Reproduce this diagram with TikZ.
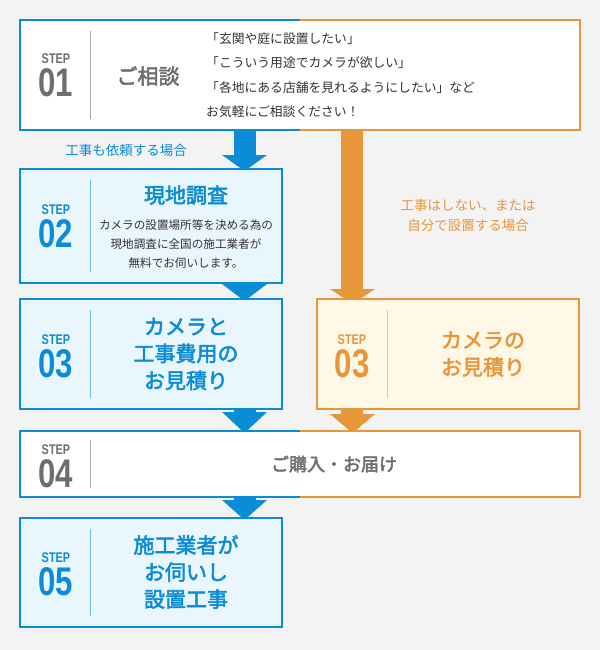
\documentclass[tikz,border=0pt]{standalone}
\usepackage{fontspec}
\setmainfont{Noto Sans CJK JP}
\newfontfamily\jpb{Noto Sans CJK JP}[FakeBold=2.5]
\newfontfamily\stepf{Liberation Sans}[FakeStretch=0.78]
\definecolor{bg}{HTML}{F3F3F3}
\definecolor{bl}{HTML}{0A8CD6}
\definecolor{og}{HTML}{E8963A}
\definecolor{gy}{HTML}{6E6E6E}
\definecolor{lbl}{HTML}{EAF6FD}
\definecolor{lor}{HTML}{FFF8E6}
\definecolor{tx}{HTML}{333333}
\tikzset{
 stp/.style={align=center,font=\stepf\bfseries,inner sep=0},
 ttl/.style={align=center,font=\jpb\fontsize{21}{27}\selectfont,inner sep=0},
 dsc/.style={align=center,font=\fontsize{11.6}{19}\selectfont,text=tx,inner sep=0},
 lab/.style={align=center,font=\fontsize{13.5}{20}\selectfont,inner sep=0},
 div/.style={draw=#1!60!white,line width=0.6pt}
}
\newcommand{\stepnum}[2]{{\fontsize{14}{14}\selectfont STEP}\\[4pt]{\fontsize{40}{34}\selectfont #2}}
\begin{document}
\begin{tikzpicture}[x=1pt,y=-1pt]
\fill[bg] (0,0) rectangle (600,650);
\useasboundingbox (0,0) rectangle (600,650);
% arrows
\fill[bl] (234,130) rectangle (256,157); \fill[bl] (222,155) -- (267,155) -- (244.5,171) -- cycle;
\fill[bl] (234,283) rectangle (256,286); \fill[bl] (222,284) -- (267,284) -- (244.5,301) -- cycle;
\fill[bl] (234,410) rectangle (256,414); \fill[bl] (222,412) -- (267,412) -- (244.5,433) -- cycle;
\fill[bl] (234,498) rectangle (256,502); \fill[bl] (222,500) -- (267,500) -- (244.5,520) -- cycle;
\fill[og] (341,130) rectangle (363,290); \fill[og] (330,289) -- (375,289) -- (352.5,304) -- cycle;
\fill[og] (341,410) rectangle (363,415); \fill[og] (330,414) -- (375,414) -- (352.5,433) -- cycle;
% step 01
\fill[white] (20,20) rectangle (580,130);
\draw[bl,line width=2pt] (300,20) -- (20,20) -- (20,130) -- (300,130);
\draw[og,line width=2pt] (300,20) -- (580,20) -- (580,130) -- (300,130);
\draw[div=gy] (90,31) -- (90,119);
\node[stp,text=gy] (s1) at (56,75) {\stepnum{}{01}};
\node[ttl,text=gy,font=\jpb\fontsize{21}{24}\selectfont] (t1) at (148,76) {ご相談};
\node[dsc,align=left,anchor=west,font=\fontsize{12.8}{24.5}\selectfont] (d1) at (206,75) {「玄関や庭に設置したい」\\「こういう用途でカメラが欲しい」\\「各地にある店舗を見れるようにしたい」など\\お気軽にご相談ください！};
% labels
\node[lab,text=bl] (l1) at (126,150) {工事も依頼する場合};
\node[lab,text=og] (l2) at (468,215) {工事はしない、または\\自分で設置する場合};
% step 02
\draw[bl,fill=lbl,line width=2pt] (20,169) rectangle (282,283);
\draw[div=bl] (90,180) -- (90,272);
\node[stp,text=bl] (s2) at (56,226) {\stepnum{}{02}};
\node[ttl,text=bl,font=\jpb\fontsize{21}{27}\selectfont] (t2) at (186,195) {現地調査};
\node[dsc] (d2) at (186,244) {カメラの設置場所等を決める為の\\現地調査に全国の施工業者が\\無料でお伺いします。};
% step 03 left
\draw[bl,fill=lbl,line width=2pt] (20,299) rectangle (282,409);
\draw[div=bl] (90,310) -- (90,398);
\node[stp,text=bl] (s3) at (56,356) {\stepnum{}{03}};
\node[ttl,text=bl] (t3) at (186,354) {カメラと\\工事費用の\\お見積り};
% step 03 right
\draw[og,fill=lor,line width=2pt] (317,299) rectangle (579,409);
\draw[div=og] (387,310) -- (387,398);
\node[stp,text=og] (s3b) at (352,356) {\stepnum{}{03}};
\node[ttl,text=og] (t3b) at (483,354) {カメラの\\お見積り};
% step 04
\fill[white] (20,431) rectangle (580,497);
\draw[bl,line width=2pt] (300,431) -- (20,431) -- (20,497) -- (300,497);
\draw[og,line width=2pt] (300,431) -- (580,431) -- (580,497) -- (300,497);
\draw[div=gy] (90,440) -- (90,488);
\node[stp,text=gy] (s4) at (56,466) {\stepnum{}{04}};
\node[ttl,text=gy,font=\jpb\fontsize{18}{22}\selectfont] (t4) at (334,464) {ご購入・お届け};
% step 05
\draw[bl,fill=lbl,line width=2pt] (20,518) rectangle (282,627);
\draw[div=bl] (90,529) -- (90,616);
\node[stp,text=bl] (s5) at (56,574) {\stepnum{}{05}};
\node[ttl,text=bl] (t5) at (186,572) {施工業者が\\お伺いし\\設置工事};
\end{tikzpicture}
\end{document}
